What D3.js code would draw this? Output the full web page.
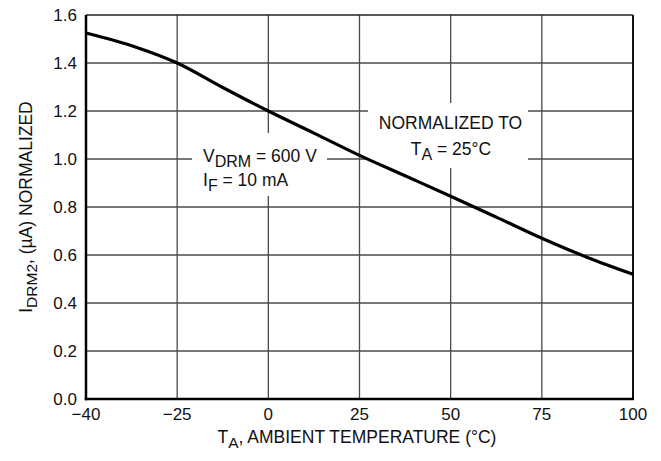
<!DOCTYPE html>
<html>
<head>
<meta charset="utf-8">
<script src="https://cdn.jsdelivr.net/npm/d3@7/dist/d3.min.js"></script>
<style>
  html, body { margin: 0; padding: 0; background: #fff; }
  svg { display: block; font-family: "Liberation Sans", Arial, Helvetica, sans-serif; }
</style>
</head>
<body>
<svg id="chart" width="661" height="461"></svg>
<script>
// Ambient temperature (°C) and normalized off-state leakage current I_DRM2
const temperatures = [-40, -32, -25, -12.5, 0, 12.5, 25, 37.5, 50, 62.5, 75, 87.5, 100];
const leakageNormalized = [1.525, 1.468, 1.40, 1.298, 1.20, 1.108, 1.015, 0.93, 0.845, 0.758, 0.67, 0.59, 0.52];

const xTicks = [-40, -25, 0, 25, 50, 75, 100];
const xTickLabels = ["\u221240", "\u221225", "0", "25", "50", "75", "100"];
const yTicks = [0, 0.2, 0.4, 0.6, 0.8, 1.0, 1.2, 1.4, 1.6];
const yTickLabels = ["0.0", "0.2", "0.4", "0.6", "0.8", "1.0", "1.2", "1.4", "1.6"];

const svg = d3.select("#chart");
const plotL = 86, plotR = 633, plotT = 15, plotB = 399;

// The -40..-25 span gets the same width as each 25-degree span
const x = d3.scaleLinear()
  .domain([-40, -25, 100])
  .range([plotL, plotL + (plotR - plotL) / 6, plotR]);
const y = d3.scaleLinear().domain([0, 1.6]).range([plotB, plotT]);

// Grid
const grid = svg.append("g").attr("stroke", "#4a4a4a").attr("stroke-width", 1.3);
grid.selectAll("line.v").data(xTicks.slice(1, -1)).enter().append("line")
  .attr("x1", d => x(d)).attr("x2", d => x(d))
  .attr("y1", plotT).attr("y2", plotB);
grid.selectAll("line.h").data(yTicks.slice(1, -1)).enter().append("line")
  .attr("x1", plotL).attr("x2", plotR)
  .attr("y1", d => y(d)).attr("y2", d => y(d));

// Frame: thin top/right, heavy left/bottom
svg.append("line").attr("x1", plotL).attr("x2", plotR).attr("y1", plotT).attr("y2", plotT)
  .attr("stroke", "#222").attr("stroke-width", 1.5);
svg.append("line").attr("x1", plotR).attr("x2", plotR).attr("y1", plotT).attr("y2", plotB)
  .attr("stroke", "#111").attr("stroke-width", 2);

// Backgrounds behind the annotations
svg.append("rect").attr("x", 368).attr("y", 103).attr("width", 160).attr("height", 65).attr("fill", "#fff");
svg.append("rect").attr("x", 192).attr("y", 133).attr("width", 135).attr("height", 63).attr("fill", "#fff");

svg.append("line").attr("x1", plotL).attr("x2", plotL).attr("y1", plotT).attr("y2", plotB + 1.25)
  .attr("stroke", "#000").attr("stroke-width", 2.5);
svg.append("line").attr("x1", plotL - 1.25).attr("x2", plotR + 1).attr("y1", plotB).attr("y2", plotB)
  .attr("stroke", "#000").attr("stroke-width", 2.5);

// Curve
const line = d3.line()
  .x((d, i) => x(temperatures[i]))
  .y(d => y(d))
  .curve(d3.curveMonotoneX);
svg.append("path").datum(leakageNormalized)
  .attr("d", line)
  .attr("fill", "none").attr("stroke", "#000").attr("stroke-width", 3.2)
  .attr("stroke-linecap", "butt").attr("stroke-linejoin", "round");

// Tick labels
svg.append("g").selectAll("text").data(xTicks).enter().append("text")
  .attr("x", d => x(d)).attr("y", 420)
  .attr("text-anchor", "middle").attr("font-size", 17).attr("fill", "#111")
  .text((d, i) => xTickLabels[i]);
svg.append("g").selectAll("text").data(yTicks).enter().append("text")
  .attr("x", 77).attr("y", d => y(d)).attr("dy", "0.36em")
  .attr("text-anchor", "end").attr("font-size", 17).attr("fill", "#111")
  .text((d, i) => yTickLabels[i]);

// Axis titles
const xt = svg.append("text").attr("x", 357).attr("y", 443)
  .attr("text-anchor", "middle").attr("font-size", 17.5).attr("fill", "#111");
xt.append("tspan").text("T");
xt.append("tspan").attr("dy", 5).attr("font-size", 15.5).text("A");
xt.append("tspan").attr("dy", -5).text(", AMBIENT TEMPERATURE (\u00B0C)");

const yt = svg.append("text")
  .attr("transform", "translate(32,207) rotate(-90)")
  .attr("text-anchor", "middle").attr("font-size", 17.5).attr("fill", "#111");
yt.append("tspan").text("I");
yt.append("tspan").attr("dy", 5).attr("font-size", 15.5).text("DRM2");
yt.append("tspan").attr("dy", -5).text(", (\u00B5A) NORMALIZED");

// Annotations
const a1 = svg.append("text").attr("x", 203).attr("y", 161.5).attr("font-size", 17.5).attr("fill", "#111");
a1.append("tspan").text("V");
a1.append("tspan").attr("dy", 5).attr("font-size", 16).text("DRM");
a1.append("tspan").attr("dy", -5).text(" = 600 V");

const a2 = svg.append("text").attr("x", 203).attr("y", 185.5).attr("font-size", 17.5).attr("fill", "#111");
a2.append("tspan").text("I");
a2.append("tspan").attr("dy", 5).attr("font-size", 16).text("F");
a2.append("tspan").attr("dy", -5).text(" = 10 mA");

svg.append("text").attr("x", 450.5).attr("y", 129).attr("text-anchor", "middle")
  .attr("font-size", 17.5).attr("fill", "#111").text("NORMALIZED TO");
const a3 = svg.append("text").attr("x", 451).attr("y", 155).attr("text-anchor", "middle")
  .attr("font-size", 17.5).attr("fill", "#111");
a3.append("tspan").text("T");
a3.append("tspan").attr("dy", 5).attr("font-size", 16).text("A");
a3.append("tspan").attr("dy", -5).text(" = 25\u00B0C");
</script>
</body>
</html>
